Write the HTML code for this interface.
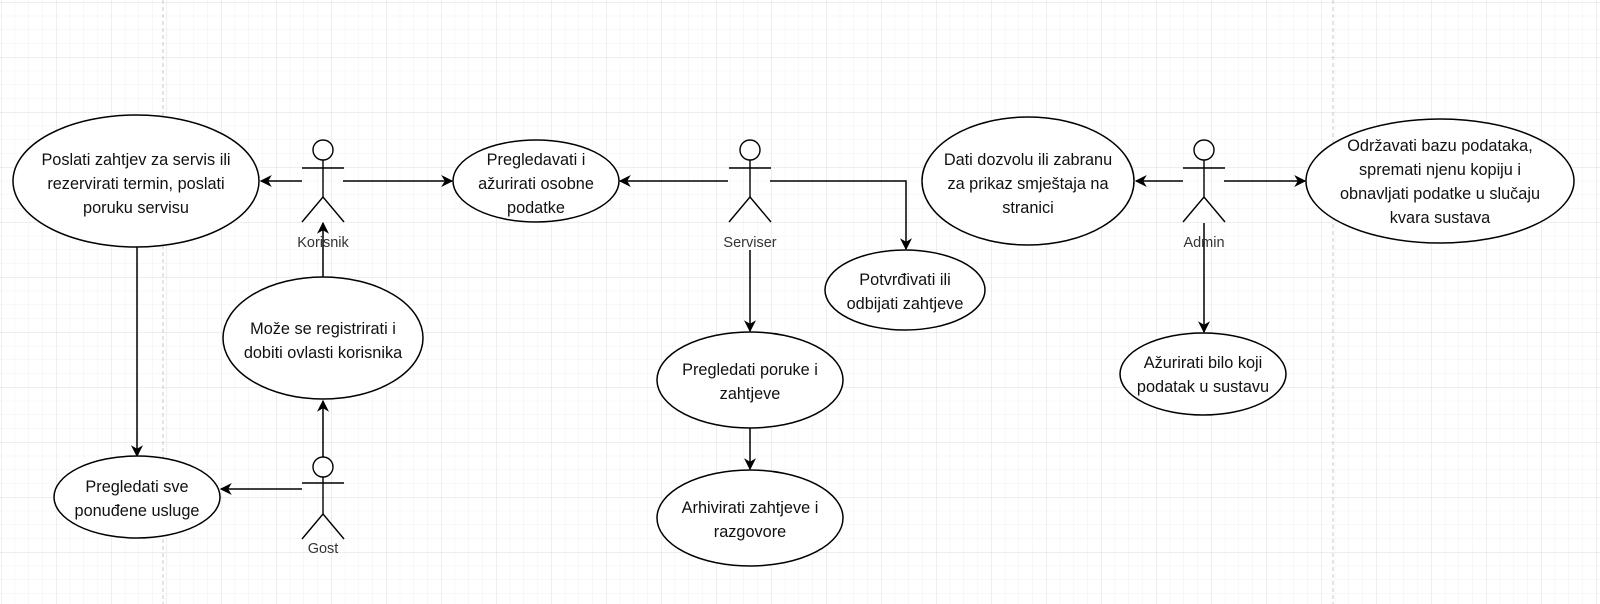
<!DOCTYPE html>
<html><head><meta charset="utf-8"><style>
html,body{margin:0;padding:0;background:#fff;}
svg{display:block;}
text{font-family:"Liberation Sans",sans-serif;}
</style></head><body>
<svg width="1600" height="604" viewBox="0 0 1600 604" xmlns="http://www.w3.org/2000/svg">
<defs>
<pattern id="minor" x="1" y="2" width="13.75" height="13.75" patternUnits="userSpaceOnUse">
<path d="M0 0H13.75M0 0V13.75" stroke="#f1f1f1" stroke-width="1" fill="none"/>
</pattern>
<pattern id="major" x="1" y="2" width="55" height="55" patternUnits="userSpaceOnUse">
<path d="M0 0H55M0 0V55" stroke="#dedede" stroke-width="1" fill="none"/>
</pattern>
<marker id="a" viewBox="0 0 10 10" refX="9" refY="5" markerWidth="12" markerHeight="12" markerUnits="userSpaceOnUse" orient="auto">
<path d="M0 0L10 5L0 10L3 5Z" fill="#000"/>
</marker>
</defs>
<rect width="1600" height="604" fill="#fff"/>
<rect width="1600" height="604" fill="url(#minor)"/>
<rect width="1600" height="604" fill="url(#major)"/>
<line x1="163" y1="0" x2="163" y2="604" stroke="#c8c8c8" stroke-dasharray="4 3"/>
<line x1="1333" y1="0" x2="1333" y2="604" stroke="#c8c8c8" stroke-dasharray="4 3"/>

<g stroke="#000" stroke-width="1.5" fill="none">
<line x1="302" y1="181" x2="261" y2="181" marker-end="url(#a)"/>
<line x1="343" y1="181" x2="452" y2="181" marker-end="url(#a)"/>
<line x1="137" y1="247" x2="137" y2="456" marker-end="url(#a)"/>
<line x1="323" y1="277" x2="323" y2="223" marker-end="url(#a)"/>
<line x1="323" y1="457" x2="323" y2="401" marker-end="url(#a)"/>
<line x1="302" y1="489" x2="221" y2="489" marker-end="url(#a)"/>
<line x1="728" y1="181" x2="620" y2="181" marker-end="url(#a)"/>
<polyline points="770,181 906,181 906,249" marker-end="url(#a)"/>
<line x1="750" y1="250" x2="750" y2="331" marker-end="url(#a)"/>
<line x1="750" y1="428" x2="750" y2="469" marker-end="url(#a)"/>
<line x1="1183" y1="181" x2="1136" y2="181" marker-end="url(#a)"/>
<line x1="1224" y1="181" x2="1305" y2="181" marker-end="url(#a)"/>
<line x1="1204" y1="223" x2="1204" y2="332" marker-end="url(#a)"/>
</g>

<g stroke="#000" stroke-width="1.5" fill="#fff">
<ellipse cx="136" cy="181" rx="123" ry="66"/>
<ellipse cx="536" cy="181" rx="83" ry="41"/>
<ellipse cx="323" cy="338" rx="100" ry="61"/>
<ellipse cx="137" cy="497" rx="83" ry="41"/>
<ellipse cx="905" cy="290" rx="80" ry="40"/>
<ellipse cx="750" cy="380" rx="93" ry="48"/>
<ellipse cx="750" cy="518" rx="93" ry="48"/>
<ellipse cx="1028" cy="181" rx="106" ry="64"/>
<ellipse cx="1440" cy="181" rx="134" ry="62"/>
<ellipse cx="1203" cy="374" rx="83" ry="41"/>
</g>

<g stroke="#000" stroke-width="1.4" fill="#fff">
<g transform="translate(323,0)">
<circle cx="0" cy="150" r="10"/>
<line x1="0" y1="160" x2="0" y2="197"/><line x1="-21" y1="168" x2="21" y2="168"/>
<polyline points="-21,222 0,197 21,222" fill="none"/>
</g>
<g transform="translate(323,317)">
<circle cx="0" cy="150" r="10"/>
<line x1="0" y1="160" x2="0" y2="197"/><line x1="-21" y1="166" x2="21" y2="166"/>
<polyline points="-21,222 0,197 21,222" fill="none"/>
</g>
<g transform="translate(750,0)">
<circle cx="0" cy="150" r="10"/>
<line x1="0" y1="160" x2="0" y2="197"/><line x1="-21" y1="168" x2="21" y2="168"/>
<polyline points="-21,222 0,197 21,222" fill="none"/>
</g>
<g transform="translate(1204,0)">
<circle cx="0" cy="150" r="10"/>
<line x1="0" y1="160" x2="0" y2="197"/><line x1="-21" y1="168" x2="21" y2="168"/>
<polyline points="-21,222 0,197 21,222" fill="none"/>
</g>
</g>
<g font-size="14.5" fill="#333" text-anchor="middle">
<text x="323" y="247">Korisnik</text>
<text x="323" y="553">Gost</text>
<text x="750" y="247">Serviser</text>
<text x="1204" y="247">Admin</text>
</g>

<g font-size="16.3" fill="#111" text-anchor="middle">
<text x="136" y="165">Poslati zahtjev za servis ili</text>
<text x="136" y="189">rezervirati termin, poslati</text>
<text x="136" y="213">poruku servisu</text>

<text x="536" y="165">Pregledavati i</text>
<text x="536" y="189">ažurirati osobne</text>
<text x="536" y="213">podatke</text>

<text x="323" y="334">Može se registrirati i</text>
<text x="323" y="358">dobiti ovlasti korisnika</text>

<text x="137" y="492">Pregledati sve</text>
<text x="137" y="516">ponuđene usluge</text>

<text x="905" y="285">Potvrđivati ili</text>
<text x="905" y="309">odbijati zahtjeve</text>

<text x="750" y="375">Pregledati poruke i</text>
<text x="750" y="399">zahtjeve</text>

<text x="750" y="513">Arhivirati zahtjeve i</text>
<text x="750" y="537">razgovore</text>

<text x="1028" y="165">Dati dozvolu ili zabranu</text>
<text x="1028" y="189">za prikaz smještaja na</text>
<text x="1028" y="213">stranici</text>

<text x="1440" y="151">Održavati bazu podataka,</text>
<text x="1440" y="175">spremati njenu kopiju i</text>
<text x="1440" y="199">obnavljati podatke u slučaju</text>
<text x="1440" y="223">kvara sustava</text>

<text x="1203" y="368">Ažurirati bilo koji</text>
<text x="1203" y="392">podatak u sustavu</text>
</g>
</svg>
</body></html>
